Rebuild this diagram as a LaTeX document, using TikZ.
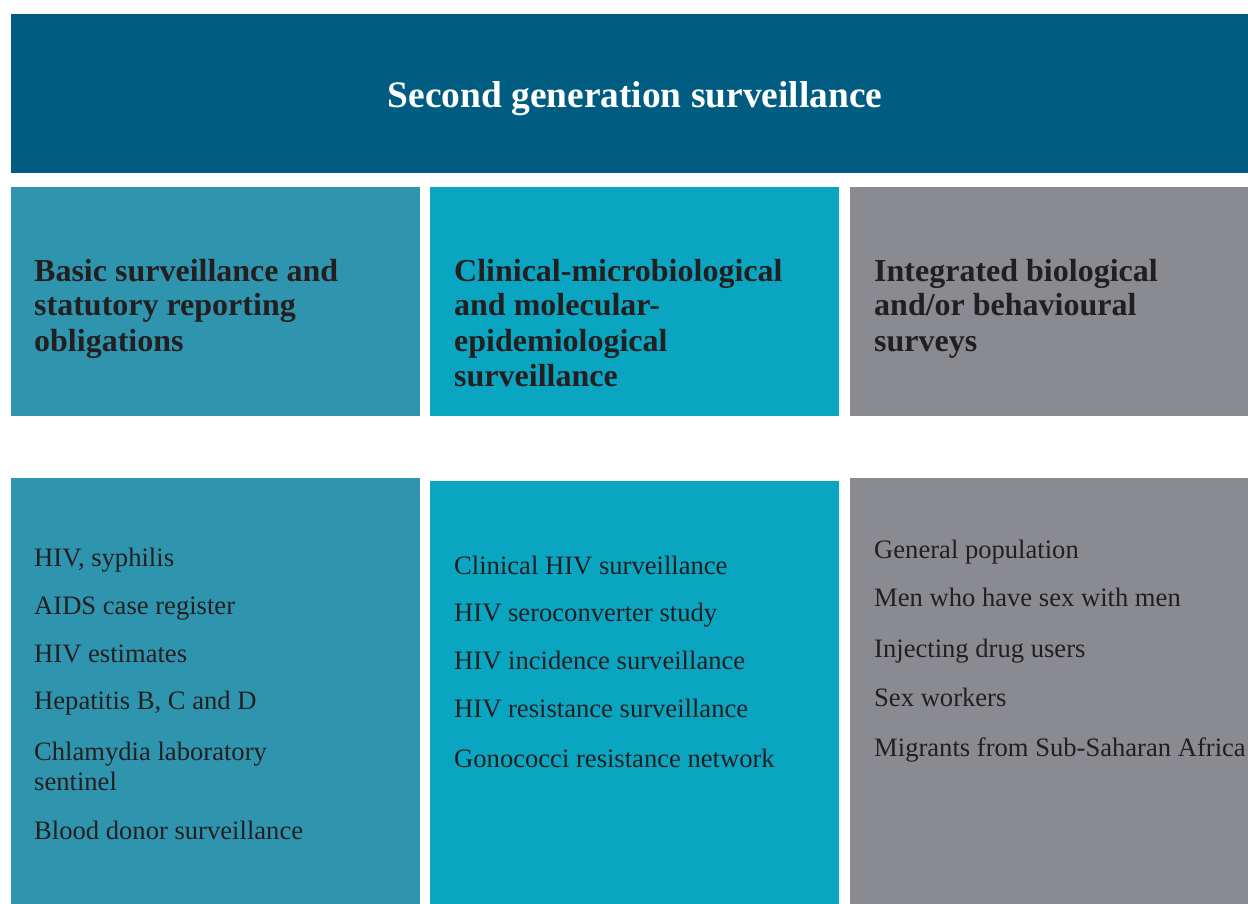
\documentclass[tikz,border=0pt]{standalone}
\usepackage{fontspec}
\setmainfont{Liberation Serif}
\definecolor{banner}{HTML}{005C80}
\definecolor{colA}{HTML}{2F95AF}
\definecolor{colB}{HTML}{0AA5C0}
\definecolor{colC}{HTML}{898B90}
\definecolor{ink}{HTML}{231F20}
\tikzset{
  titletext/.style={inner sep=0pt, anchor=base, text=white, font=\fontsize{37.4}{40}\selectfont\bfseries},
  headtext/.style={inner sep=0pt, anchor=base west, text=ink, font=\fontsize{32}{35}\selectfont\bfseries},
  bodytext/.style={inner sep=0pt, anchor=base west, text=ink, font=\fontsize{26.6}{30}\selectfont},
}
\begin{document}
\begin{tikzpicture}[x=1pt,y=-1pt]
\useasboundingbox (0,0) rectangle (1248,904);
% backgrounds
\fill[banner] (11,14) rectangle (1248,173);
\fill[colA] (11,187) rectangle (420,416);
\fill[colB] (430,187) rectangle (839,416);
\fill[colC] (850,187) rectangle (1248,416);
\fill[colA] (11,478) rectangle (420,904);
\fill[colB] (430,481) rectangle (839,904);
\fill[colC] (850,478) rectangle (1248,904);
% title
\node[titletext] (title) at (635,108) {Second generation surveillance};
% headings
\node[headtext] (hA1) at (34,281) {Basic surveillance and};
\node[headtext] (hA2) at (34,316) {statutory reporting};
\node[headtext] (hA3) at (34,351) {obligations};
\node[headtext] (hB1) at (454,281) {Clinical-microbiological};
\node[headtext] (hB2) at (454,316) {and molecular-};
\node[headtext] (hB3) at (454,351) {epidemiological};
\node[headtext] (hB4) at (454,386) {surveillance};
\node[headtext] (hC1) at (874,281) {Integrated biological};
\node[headtext] (hC2) at (874,316) {and/or behavioural};
\node[headtext] (hC3) at (874,351) {surveys};
% column A body
\node[bodytext] (a1) at (34,566) {HIV, syphilis};
\node[bodytext] (a2) at (34,614) {AIDS case register};
\node[bodytext] (a3) at (34,662) {HIV estimates};
\node[bodytext] (a4) at (34,709) {Hepatitis B, C and D};
\node[bodytext] (a5) at (34,760) {Chlamydia laboratory};
\node[bodytext] (a6) at (34,790) {sentinel};
\node[bodytext] (a7) at (34,839) {Blood donor surveillance};
% column B body
\node[bodytext] (b1) at (454,574) {Clinical HIV surveillance};
\node[bodytext] (b2) at (454,621) {HIV seroconverter study};
\node[bodytext] (b3) at (454,669) {HIV incidence surveillance};
\node[bodytext] (b4) at (454,717) {HIV resistance surveillance};
\node[bodytext] (b5) at (454,767) {Gonococci resistance network};
% column C body
\node[bodytext] (c1) at (874,558) {General population};
\node[bodytext] (c2) at (874,606) {Men who have sex with men};
\node[bodytext] (c3) at (874,657) {Injecting drug users};
\node[bodytext] (c4) at (874,706) {Sex workers};
\node[bodytext] (c5) at (874,756) {Migrants from Sub-Saharan Africa};
\end{tikzpicture}
\end{document}
